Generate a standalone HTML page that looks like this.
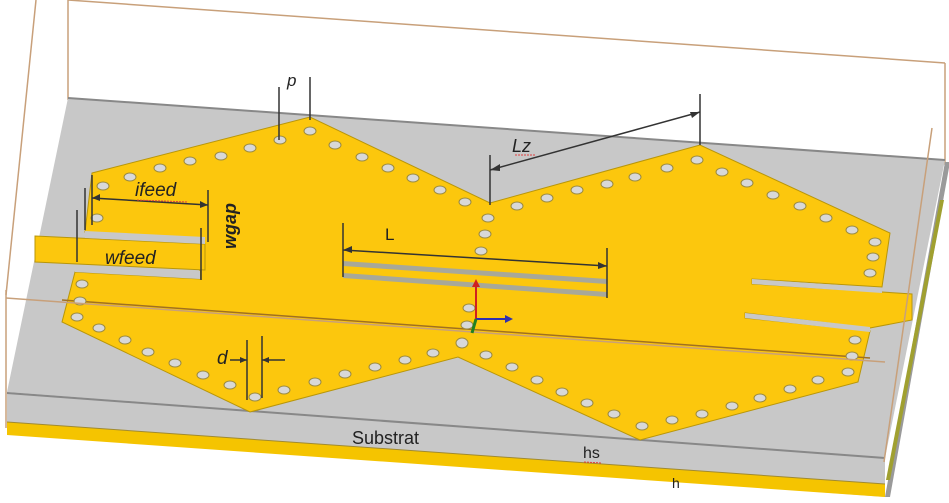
<!DOCTYPE html>
<html><head><meta charset="utf-8"><style>
html,body{margin:0;padding:0;background:#fff;}
svg{display:block;}
text{font-family:"Liberation Sans",sans-serif;}
</style></head><body>
<svg width="949" height="503" viewBox="0 0 949 503" xmlns="http://www.w3.org/2000/svg">
<g stroke="#c8a07a" stroke-width="1.5" fill="none">
<line x1="68" y1="0" x2="945" y2="63"/>
<line x1="945" y1="63" x2="945" y2="165"/>
<line x1="68" y1="0" x2="68" y2="100"/>
<line x1="36" y1="0" x2="6" y2="295"/>
</g>
<polygon points="7,392 885,457 885,497 7,432" fill="#c8c8c8"/>
<polygon points="7,422 885,484 885,497 7,435" fill="#f5c400"/>
<line x1="7" y1="422" x2="885" y2="484" stroke="#a08a30" stroke-width="1"/>
<polygon points="945,162 950,162 890,497 885,497" fill="#9a9a9a"/>
<polygon points="940,200 944,200 890,480 886,480" fill="#a0a030"/>
<polygon points="68,98 945,160 885,458 7,392" fill="#c8c8c8"/>
<line x1="68" y1="98" x2="945" y2="160" stroke="#888" stroke-width="2"/>
<line x1="7" y1="393" x2="885" y2="458" stroke="#888" stroke-width="2"/>
<!-- copper patch upper/main -->
<polygon fill="#fcc70d" stroke="#b8960a" stroke-width="1"
points="92,173 310,117 490,203 700,145 890,233 882,287 752,279 752,284 882,292 912,294 912,320 870,328 745,313 745,318 870,331 858,382 640,440 458,357 250,412 62,322 75,272 200,279 200,238 85,232"/>
<!-- left feed strip -->
<polygon points="35,236 205,244 205,270 35,262" fill="#fcc70d" stroke="#b8960a" stroke-width="1"/>
<!-- left slots -->
<polygon points="85,231 205,237 205,244 85,238" fill="#c8c8c8"/>
<polygon points="75,265 200,271 200,279 75,272" fill="#c8c8c8"/>
<!-- center slots -->
<polygon points="343,261 607,279 607,284 343,266" fill="#a8a89a"/>
<polygon points="343,273 607,292 607,297 343,278" fill="#a8a89a"/>
<!-- right slots -->
<polygon points="752,279 882,288 882,293 752,284" fill="#c8c8c8"/>
<polygon points="745,313 870,327 870,332 745,318" fill="#c8c8c8"/>
<line x1="62" y1="300" x2="870" y2="358" stroke="#a07020" stroke-width="1.5"/>
<g fill="#d8d8d8" stroke="#9a8a40" stroke-width="1">
<ellipse cx="103" cy="186" rx="6" ry="4"/><ellipse cx="130" cy="177" rx="6" ry="4"/><ellipse cx="160" cy="168" rx="6" ry="4"/><ellipse cx="190" cy="161" rx="6" ry="4"/><ellipse cx="221" cy="156" rx="6" ry="4"/><ellipse cx="250" cy="148" rx="6" ry="4"/><ellipse cx="280" cy="140" rx="6" ry="4"/><ellipse cx="310" cy="131" rx="6" ry="4"/>
<ellipse cx="335" cy="145" rx="6" ry="4"/><ellipse cx="362" cy="157" rx="6" ry="4"/><ellipse cx="388" cy="168" rx="6" ry="4"/><ellipse cx="413" cy="178" rx="6" ry="4"/><ellipse cx="440" cy="190" rx="6" ry="4"/><ellipse cx="465" cy="202" rx="6" ry="4"/>
<ellipse cx="488" cy="218" rx="6" ry="4"/><ellipse cx="485" cy="234" rx="6" ry="4"/><ellipse cx="481" cy="251" rx="6" ry="4"/>
<ellipse cx="97" cy="218" rx="6" ry="4"/>
<ellipse cx="517" cy="206" rx="6" ry="4"/><ellipse cx="547" cy="198" rx="6" ry="4"/><ellipse cx="577" cy="190" rx="6" ry="4"/><ellipse cx="607" cy="184" rx="6" ry="4"/><ellipse cx="635" cy="177" rx="6" ry="4"/><ellipse cx="667" cy="168" rx="6" ry="4"/><ellipse cx="697" cy="160" rx="6" ry="4"/>
<ellipse cx="722" cy="172" rx="6" ry="4"/><ellipse cx="747" cy="183" rx="6" ry="4"/><ellipse cx="773" cy="195" rx="6" ry="4"/><ellipse cx="800" cy="206" rx="6" ry="4"/><ellipse cx="826" cy="218" rx="6" ry="4"/><ellipse cx="852" cy="230" rx="6" ry="4"/><ellipse cx="875" cy="242" rx="6" ry="4"/><ellipse cx="873" cy="257" rx="6" ry="4"/><ellipse cx="870" cy="273" rx="6" ry="4"/>
<ellipse cx="855" cy="340" rx="6" ry="4"/><ellipse cx="852" cy="356" rx="6" ry="4"/><ellipse cx="848" cy="372" rx="6" ry="4"/>
<ellipse cx="818" cy="380" rx="6" ry="4"/><ellipse cx="790" cy="389" rx="6" ry="4"/><ellipse cx="760" cy="398" rx="6" ry="4"/><ellipse cx="732" cy="406" rx="6" ry="4"/><ellipse cx="702" cy="414" rx="6" ry="4"/><ellipse cx="672" cy="420" rx="6" ry="4"/><ellipse cx="642" cy="426" rx="6" ry="4"/>
<ellipse cx="614" cy="414" rx="6" ry="4"/><ellipse cx="587" cy="403" rx="6" ry="4"/><ellipse cx="562" cy="392" rx="6" ry="4"/><ellipse cx="537" cy="380" rx="6" ry="4"/><ellipse cx="512" cy="367" rx="6" ry="4"/><ellipse cx="486" cy="355" rx="6" ry="4"/>
<ellipse cx="469" cy="308" rx="6" ry="4"/><ellipse cx="467" cy="325" rx="6" ry="4"/><ellipse cx="462" cy="343" rx="6" ry="5"/>
<ellipse cx="433" cy="353" rx="6" ry="4"/><ellipse cx="405" cy="360" rx="6" ry="4"/><ellipse cx="375" cy="367" rx="6" ry="4"/><ellipse cx="345" cy="374" rx="6" ry="4"/><ellipse cx="315" cy="382" rx="6" ry="4"/><ellipse cx="284" cy="390" rx="6" ry="4"/><ellipse cx="255" cy="397" rx="6" ry="4"/>
<ellipse cx="230" cy="385" rx="6" ry="4"/><ellipse cx="203" cy="375" rx="6" ry="4"/><ellipse cx="175" cy="363" rx="6" ry="4"/><ellipse cx="148" cy="352" rx="6" ry="4"/><ellipse cx="125" cy="340" rx="6" ry="4"/><ellipse cx="99" cy="328" rx="6" ry="4"/><ellipse cx="77" cy="317" rx="6" ry="4"/><ellipse cx="80" cy="301" rx="6" ry="4"/><ellipse cx="82" cy="284" rx="6" ry="4"/>
</g>
<g stroke="#c8a07a" stroke-width="1.5" fill="none">
<line x1="6" y1="298" x2="885" y2="362"/>
<line x1="6" y1="290" x2="6" y2="428"/>
<line x1="932" y1="128" x2="884" y2="462"/>
</g>
<g stroke="#333" stroke-width="1.5" fill="none">
<line x1="279" y1="87" x2="279" y2="140"/><line x1="310" y1="77" x2="310" y2="120"/>
<line x1="490" y1="155" x2="490" y2="205"/><line x1="700" y1="94" x2="700" y2="145"/>
<line x1="490" y1="170" x2="700" y2="112"/>
<line x1="343" y1="223" x2="343" y2="277"/><line x1="607" y1="248" x2="607" y2="298"/>
<line x1="343" y1="250" x2="607" y2="266"/>
<line x1="92" y1="175" x2="92" y2="225"/><line x1="208" y1="190" x2="208" y2="242"/>
<line x1="92" y1="198" x2="208" y2="205"/>
<line x1="85" y1="188" x2="85" y2="230"/><line x1="77" y1="210" x2="77" y2="262"/>
<line x1="201" y1="228" x2="201" y2="280"/>
<line x1="247" y1="340" x2="247" y2="400"/><line x1="262" y1="336" x2="262" y2="398"/>
<line x1="230" y1="360" x2="247" y2="360"/><line x1="262" y1="360" x2="285" y2="360"/>
</g>
<g fill="#333">
<polygon points="700,112 690,112 692,118"/><polygon points="490,170 500,164 500,171"/>
<polygon points="343,250 352,246 352,253"/><polygon points="607,266 598,262 598,269"/>
<polygon points="92,198 100,194 100,201"/><polygon points="208,205 200,201 200,208"/>
<polygon points="247,360 240,357 240,363"/><polygon points="262,360 269,357 269,363"/>
</g>
<line x1="476" y1="320" x2="476" y2="283" stroke="#d02020" stroke-width="2"/>
<polygon points="476,279 472,287 480,287" fill="#d02020"/>
<line x1="476" y1="319" x2="508" y2="319" stroke="#3030b0" stroke-width="2"/>
<polygon points="513,319 505,315 505,323" fill="#3030b0"/>
<line x1="476" y1="319" x2="472" y2="333" stroke="#208020" stroke-width="3"/>
<g font-style="italic" fill="#222">
<text x="287" y="86" font-size="17">p</text>
<text x="512" y="152" font-size="18">Lz</text>
<text x="135" y="196" font-size="19">ifeed</text>
<text x="105" y="264" font-size="19">wfeed</text>
<text x="217" y="364" font-size="19">d</text>
<text transform="translate(236,226) rotate(-90)" text-anchor="middle" font-size="18" font-weight="bold">wgap</text>
</g>
<text x="385" y="240" font-size="17" fill="#222">L</text>
<text x="352" y="444" font-size="18" fill="#222">Substrat</text>
<text x="583" y="458" font-size="16" fill="#222">hs</text>
<text x="672" y="488" font-size="14" fill="#222">h</text>
<g stroke="#e04040" stroke-width="1" stroke-dasharray="2,1">
<line x1="515" y1="155" x2="535" y2="155"/><line x1="137" y1="200" x2="188" y2="202"/><line x1="584" y1="462" x2="602" y2="463"/>
</g>
</svg>
</body></html>
